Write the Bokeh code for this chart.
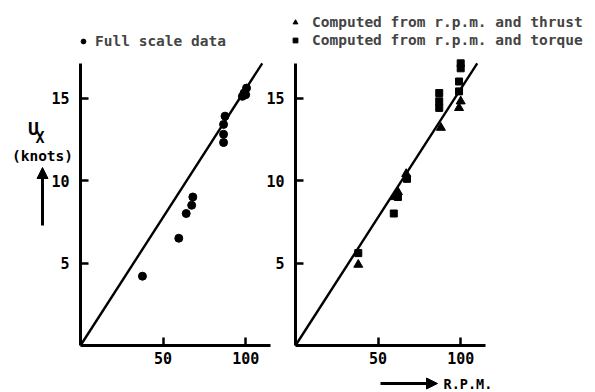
from bokeh.plotting import figure
from bokeh.models import (Range1d, Legend, LegendItem, Label, Arrow, NormalHead,
                          FixedTicker, LinearAxis)
from bokeh.embed import file_html
from bokeh.resources import INLINE

# Full scale data (left panel)
full_rpm = [37.5, 59.5, 64, 67.3, 68, 86.6, 86.6, 86.6, 87.5, 98, 99, 100, 100.5]
full_ux = [4.2, 6.5, 8.0, 8.5, 9.0, 12.3, 12.8, 13.4, 13.9, 15.1, 15.3, 15.2, 15.6]

# Computed values (right panel)
thrust_rpm = [38, 60, 62, 67, 88, 99, 100]
thrust_ux = [4.9, 9.0, 9.3, 10.4, 13.2, 14.4, 14.8]
torque_rpm = [38, 59.5, 62, 67.5, 87, 87, 87, 99, 99, 100, 100]
torque_ux = [5.6, 8.0, 9.0, 10.1, 14.4, 14.8, 15.3, 15.4, 16.0, 16.8, 17.1]

# Straight reference line
line_rpm = [0, 110]
line_ux = [0, 17.1]

x_ticks = [50, 100]
y_ticks = [5, 10, 15]
x_max = 115
y_max = 17.1

FONT = "DejaVu Sans Mono"
FS = "14.5px"
TFS = "15px"

W, H = 595, 392
SX = 1.652      # px per rpm
SY = 16.5       # px per knot
L1, L2, BOT = 80, 295, 345   # panel origins (px)

p = figure(width=W, height=H,
           x_range=Range1d(-L1 / SX, (W - L1) / SX),
           y_range=Range1d(-(H - BOT) / SY, BOT / SY),
           min_border=0, min_border_left=0, min_border_right=0,
           min_border_top=0, min_border_bottom=0,
           x_axis_type=None, y_axis_type=None,
           output_backend="svg", toolbar_location=None)
p.extra_x_ranges = {"right": Range1d(-L2 / SX, (W - L2) / SX)}
p.outline_line_color = None
p.grid.visible = False


def add_axes(range_name):
    xa = LinearAxis(x_range_name=range_name, fixed_location=0, bounds=(0, x_max),
                    ticker=FixedTicker(ticks=x_ticks))
    ya = LinearAxis(x_range_name=range_name, fixed_location=0, bounds=(0, y_max),
                    ticker=FixedTicker(ticks=y_ticks))
    for ax in (xa, ya):
        ax.axis_line_width = 3
        ax.major_tick_line_width = 2.5
        ax.major_tick_in = 8
        ax.major_tick_out = 0
        ax.minor_tick_line_color = None
        ax.major_label_text_font = FONT
        ax.major_label_text_font_style = "bold"
        ax.major_label_text_font_size = TFS
        ax.major_label_text_color = "black"
    xa.major_label_standoff = 6
    ya.major_label_standoff = 11
    p.add_layout(xa, "below")
    p.add_layout(ya, "left")


add_axes("default")
add_axes("right")

p.line(line_rpm, line_ux, line_width=2.4, color="black")
r_full = p.scatter(full_rpm, full_ux, marker="circle", size=8, color="black")

p.line(line_rpm, line_ux, line_width=2.4, color="black", x_range_name="right")
r_thr = p.scatter(thrust_rpm, thrust_ux, marker="triangle", size=9, color="black",
                  x_range_name="right")
r_tor = p.scatter(torque_rpm, torque_ux, marker="square", size=7, color="black",
                  x_range_name="right")


def mk_legend(items, loc, standoff):
    lg = Legend(items=items, location=loc)
    lg.border_line_color = None
    lg.background_fill_alpha = 0
    lg.padding = 0
    lg.margin = 0
    lg.spacing = 0
    lg.label_height = 18
    lg.glyph_height = 18
    lg.glyph_width = 12
    lg.label_standoff = standoff
    lg.label_text_font = FONT
    lg.label_text_font_style = "bold"
    lg.label_text_font_size = FS
    return lg


p.add_layout(mk_legend([LegendItem(label="Full scale data", renderers=[r_full])],
                       (77, 342), 6))
p.add_layout(mk_legend([LegendItem(label="Computed from r.p.m. and thrust", renderers=[r_thr]),
                        LegendItem(label="Computed from r.p.m. and torque", renderers=[r_tor])],
                       (289, 343), 11))

lab_kw = dict(x_units="screen", y_units="screen", text_font=FONT, text_font_style="bold",
              text_color="black")
p.add_layout(Label(x=33, y=264, text="U", text_align="center", text_baseline="alphabetic",
                   text_font_size="18px", **lab_kw))
p.add_layout(Label(x=39.5, y=255, text="X", text_align="center", text_baseline="alphabetic",
                   text_font_size="15px", **lab_kw))
p.add_layout(Label(x=42, y=236.5, text="(knots)", text_align="center", text_baseline="middle",
                   text_font_size=FS, **lab_kw))
p.add_layout(Arrow(x_start=42, y_start=167, x_end=42, y_end=225, start_units="screen",
                   end_units="screen", line_width=3, line_color="black",
                   end=NormalHead(size=11, fill_color="black", line_color="black")))
p.add_layout(Arrow(x_start=380, y_start=9, x_end=437, y_end=9, start_units="screen",
                   end_units="screen", line_width=3, line_color="black",
                   end=NormalHead(size=11, fill_color="black", line_color="black")))
p.add_layout(Label(x=443, y=9, text="R.P.M.", text_align="left", text_baseline="middle",
                   text_font_size="13.5px", **lab_kw))

open("out.html", "w").write(file_html(p, INLINE))
